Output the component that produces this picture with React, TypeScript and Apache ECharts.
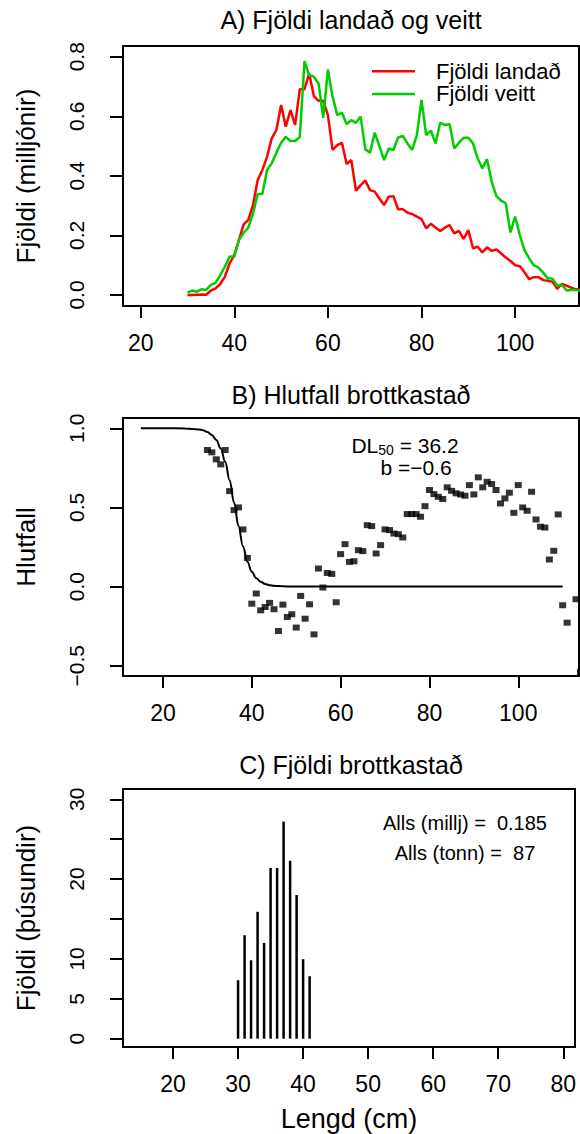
import React, { useEffect, useRef } from "react";
import * as echarts from "echarts";

// ---------- Panel A data ----------
const lengthsA = [
  30, 31, 32, 33, 34, 35, 36, 37, 38, 39,
  40, 41, 42, 43, 44, 45, 46, 47, 48, 49,
  50, 51, 52, 53, 54, 55, 56, 57, 58, 59,
  60, 61, 62, 63, 64, 65, 66, 67, 68, 69,
  70, 71, 72, 73, 74, 75, 76, 77, 78, 79,
  80, 81, 82, 83, 84, 85, 86, 87, 88, 89,
  90, 91, 92, 93, 94, 95, 96, 97, 98, 99,
  100, 101, 102, 103, 104, 105, 106, 107, 108, 109,
  110, 111, 112, 113, 114,
];
const landad = [
  0.000, 0.000, 0.001, 0.002, 0.001, 0.015, 0.022, 0.037, 0.062, 0.106,
  0.134, 0.185, 0.237, 0.252, 0.302, 0.386, 0.420, 0.464, 0.526, 0.554,
  0.638, 0.565, 0.621, 0.571, 0.691, 0.691, 0.744, 0.668, 0.652, 0.652,
  0.604, 0.487, 0.503, 0.511, 0.440, 0.453, 0.350, 0.369, 0.384, 0.352,
  0.347, 0.324, 0.302, 0.330, 0.332, 0.288, 0.288, 0.276, 0.272, 0.263,
  0.255, 0.224, 0.239, 0.227, 0.215, 0.226, 0.235, 0.207, 0.215, 0.188,
  0.218, 0.157, 0.162, 0.143, 0.160, 0.148, 0.153, 0.140, 0.126, 0.114,
  0.100, 0.097, 0.076, 0.053, 0.060, 0.060, 0.050, 0.048, 0.044, 0.021,
  0.037, 0.031, 0.025, 0.019, 0.017,
];
const veitt = [
  0.008, 0.015, 0.011, 0.019, 0.017, 0.034, 0.041, 0.067, 0.095, 0.129,
  0.129, 0.185, 0.209, 0.226, 0.274, 0.339, 0.339, 0.420, 0.442, 0.478,
  0.511, 0.531, 0.517, 0.517, 0.531, 0.785, 0.738, 0.733, 0.710, 0.595,
  0.757, 0.666, 0.604, 0.612, 0.574, 0.587, 0.578, 0.599, 0.489, 0.478,
  0.545, 0.500, 0.453, 0.492, 0.487, 0.529, 0.534, 0.509, 0.487, 0.537,
  0.655, 0.537, 0.552, 0.509, 0.578, 0.571, 0.573, 0.492, 0.511, 0.528,
  0.528, 0.509, 0.459, 0.425, 0.456, 0.380, 0.332, 0.317, 0.308, 0.210,
  0.263, 0.201, 0.151, 0.123, 0.100, 0.092, 0.075, 0.056, 0.055, 0.031,
  0.034, 0.015, 0.017, 0.017, 0.015,
];
const ticksA_x = [20, 40, 60, 80, 100];
const ticksA_y = [0, 0.2, 0.4, 0.6, 0.8];

// ---------- Panel B data ----------
const lengthsB = [
  30, 31, 32, 33, 34, 35, 36, 37, 38, 39,
  40, 41, 42, 43, 44, 45, 46, 47, 48, 49,
  50, 51, 52, 53, 54, 55, 56, 57, 58, 59,
  60, 61, 62, 63, 64, 65, 66, 67, 68, 69,
  70, 71, 72, 73, 74, 75, 76, 77, 78, 79,
  80, 81, 82, 83, 84, 85, 86, 87, 88, 89,
  90, 91, 92, 93, 94, 95, 96, 97, 98, 99,
  100, 101, 102, 103, 104, 105, 106, 107, 108, 109,
  110, 111, 113, 114,
];
const hlutfall = [
  0.863, 0.848, 0.804, 0.772, 0.863, 0.603, 0.483, 0.500, 0.361, 0.181,
  -0.108, -0.044, -0.150, -0.129, -0.103, -0.143, -0.281, -0.114, -0.192, -0.175,
  -0.259, -0.059, -0.203, -0.112, -0.302, 0.114, -0.006, 0.086, 0.080, -0.099,
  0.205, 0.268, 0.156, 0.160, 0.230, 0.224, 0.388, 0.382, 0.209, 0.262,
  0.361, 0.357, 0.335, 0.331, 0.310, 0.458, 0.458, 0.458, 0.441, 0.508,
  0.610, 0.584, 0.567, 0.553, 0.627, 0.605, 0.589, 0.582, 0.574, 0.641,
  0.582, 0.690, 0.627, 0.662, 0.648, 0.610, 0.525, 0.557, 0.593, 0.466,
  0.641, 0.500, 0.479, 0.599, 0.424, 0.378, 0.373, 0.171, 0.226, 0.456,
  -0.118, -0.228, -0.080, -0.540,
];
const fitLengths = [15, 20, 25, 28, 29, 30, 31, 32, 33, 34, 35, 36, 37, 38, 39, 40, 41, 42, 43, 44, 45, 46, 48, 50, 60, 110];
const fitValues = [1.0, 1.0, 0.999, 0.993, 0.988, 0.976, 0.958, 0.926, 0.872, 0.789, 0.672, 0.530, 0.382, 0.254, 0.157, 0.093, 0.053, 0.030, 0.017, 0.009, 0.005, 0.003, 0.001, 0.0, 0.0, 0.0];
const ticksB_x = [20, 40, 60, 80, 100];
const ticksB_y = [-0.5, 0, 0.5, 1.0];

// ---------- Panel C data ----------
const lengthsC = [30, 31, 32, 33, 34, 35, 36, 37, 38, 39, 40, 41];
const brottkast = [7.33, 12.96, 9.83, 15.9, 12.0, 21.4, 21.4, 27.2, 22.3, 18.0, 9.96, 7.83];
const ticksC_x = [20, 30, 40, 50, 60, 70, 80];
const ticksC_y = [0, 5, 10, 15, 20, 25, 30];
const labelsC_y = [0, 5, 10, 20, 30];

const FONT = "'Liberation Sans', Arial, Helvetica, sans-serif";
const pairs = (xs: number[], ys: number[]) => xs.map((x, i) => [x, ys[i]]);
const fmt1 = (v: number) => (v < 0 ? "\u2212" + Math.abs(v).toFixed(1) : v.toFixed(1));

function xAxisOf(gridIndex: number, min: number, max: number, ticks: number[], extra: any = {}) {
  return {
    type: "value",
    gridIndex,
    min,
    max,
    axisLine: { show: false, onZero: false },
    splitLine: { show: false },
    axisTick: { show: true, inside: false, length: 12, lineStyle: { color: "#000", width: 2 }, customValues: ticks },
    axisLabel: { customValues: ticks, margin: 25, fontSize: 23, color: "#000", fontFamily: FONT },
    ...extra,
  };
}

function yAxisOf(gridIndex: number, min: number, max: number, ticks: number[], labels: number[], formatter: any, name: string) {
  return {
    type: "value",
    gridIndex,
    min,
    max,
    name,
    nameLocation: "middle",
    nameGap: 84,
    nameTextStyle: { fontSize: 26, color: "#000", fontFamily: FONT },
    axisLine: { show: false, onZero: false },
    splitLine: { show: false },
    axisTick: { show: true, inside: false, length: 13, lineStyle: { color: "#000", width: 2 }, customValues: ticks },
    axisLabel: { customValues: labels, rotate: 90, margin: 36, fontSize: 21, color: "#000", fontFamily: FONT, formatter },
  };
}

const gridStyle = { show: true, borderColor: "#000", borderWidth: 2, backgroundColor: "transparent", containLabel: false };

export default function App() {
  const ref = useRef<HTMLDivElement>(null);
  useEffect(() => {
    if (!ref.current) return;
    const chart = echarts.init(ref.current, null, { renderer: "svg" });
    const option: any = {
      animation: false,
      backgroundColor: "#fff",
      textStyle: { fontFamily: FONT },
      grid: [
        { left: 123, top: 46, width: 456, height: 260, ...gridStyle },
        { left: 123, top: 418, width: 456, height: 258, ...gridStyle },
        { left: 123, top: 789, width: 452, height: 258, ...gridStyle },
      ],
      xAxis: [
        xAxisOf(0, 16.22, 113.65, ticksA_x),
        xAxisOf(1, 10.99, 113.68, ticksB_x),
        xAxisOf(2, 12.31, 81.8, ticksC_x, {
          name: "Lengd (cm)",
          nameLocation: "middle",
          nameGap: 58,
          nameTextStyle: { fontSize: 27, color: "#000", fontFamily: FONT },
        }),
      ],
      yAxis: [
        yAxisOf(0, -0.0369, 0.836, ticksA_y, ticksA_y, fmt1, "Fjöldi (milljónir)"),
        yAxisOf(1, -0.565, 1.065, ticksB_y, ticksB_y, fmt1, "Hlutfall"),
        yAxisOf(2, -1.04, 31.29, ticksC_y, labelsC_y, (v: number) => String(v), "Fjöldi (þúsundir)"),
      ],
      legend: {
        orient: "vertical",
        left: 372,
        top: 60,
        padding: 0,
        icon: "rect",
        itemWidth: 43,
        itemHeight: 2.5,
        itemGap: 0,
        textStyle: { fontSize: 22, lineHeight: 22.6, color: "#000", fontFamily: FONT, padding: [0, 0, 0, 16] },
        data: ["Fjöldi landað", "Fjöldi veitt"],
      },
      graphic: [
        { type: "text", x: 351, y: 20, style: { text: "A) Fjöldi landað og veitt", fontSize: 25, fontFamily: FONT, fill: "#000", align: "center", verticalAlign: "middle" } },
        { type: "text", x: 351, y: 395, style: { text: "B) Hlutfall brottkastað", fontSize: 25, fontFamily: FONT, fill: "#000", align: "center", verticalAlign: "middle" } },
        { type: "text", x: 351, y: 765, style: { text: "C) Fjöldi brottkastað", fontSize: 25, fontFamily: FONT, fill: "#000", align: "center", verticalAlign: "middle" } },
        {
          type: "text",
          x: 405,
          y: 445,
          style: {
            text: "{a|DL}{s|50}{a| = 36.2}",
            fontFamily: FONT,
            fill: "#000",
            align: "center",
            verticalAlign: "middle",
            rich: {
              a: { fontSize: 21, fontFamily: FONT, fill: "#000", lineHeight: 24 },
              s: { fontSize: 14, fontFamily: FONT, fill: "#000", lineHeight: 24, padding: [9, 0, 0, 0] },
            },
          },
        },
        { type: "text", x: 416, y: 467, style: { text: "b =\u22120.6", fontSize: 21, fontFamily: FONT, fill: "#000", align: "center", verticalAlign: "middle" } },
        { type: "text", x: 465, y: 823, style: { text: "Alls (millj) = \u00a00.185", fontSize: 20, fontFamily: FONT, fill: "#000", align: "center", verticalAlign: "middle" } },
        { type: "text", x: 465, y: 853, style: { text: "Alls (tonn) = \u00a087", fontSize: 20, fontFamily: FONT, fill: "#000", align: "center", verticalAlign: "middle" } },
      ],
      series: [
        {
          name: "Fjöldi landað",
          type: "line",
          xAxisIndex: 0,
          yAxisIndex: 0,
          data: pairs(lengthsA, landad),
          symbol: "none",
          color: "#FF0000",
          lineStyle: { color: "#FF0000", width: 2.5 },
          clip: true,
        },
        {
          name: "Fjöldi veitt",
          type: "line",
          xAxisIndex: 0,
          yAxisIndex: 0,
          data: pairs(lengthsA, veitt),
          symbol: "none",
          color: "#00CD00",
          lineStyle: { color: "#00CD00", width: 2.5 },
          clip: true,
        },
        {
          name: "hlutfall",
          type: "scatter",
          xAxisIndex: 1,
          yAxisIndex: 1,
          data: pairs(lengthsB, hlutfall),
          symbol: "rect",
          symbolSize: [7, 6],
          itemStyle: { color: "#000" },
          clip: false,
        },
        {
          name: "fit",
          type: "line",
          xAxisIndex: 1,
          yAxisIndex: 1,
          data: pairs(fitLengths, fitValues),
          symbol: "none",
          smooth: 0.4,
          smoothMonotone: "x",
          lineStyle: { color: "#000", width: 2 },
        },
        {
          name: "brottkast",
          type: "bar",
          xAxisIndex: 2,
          yAxisIndex: 2,
          data: pairs(lengthsC, brottkast),
          barWidth: 2.5,
          itemStyle: { color: "#000" },
        },
      ],
    };
    chart.setOption(option);
    return () => chart.dispose();
  }, []);
  return <div ref={ref} style={{ position: "absolute", left: 0, top: 0, width: 580, height: 1134 }} />;
}
